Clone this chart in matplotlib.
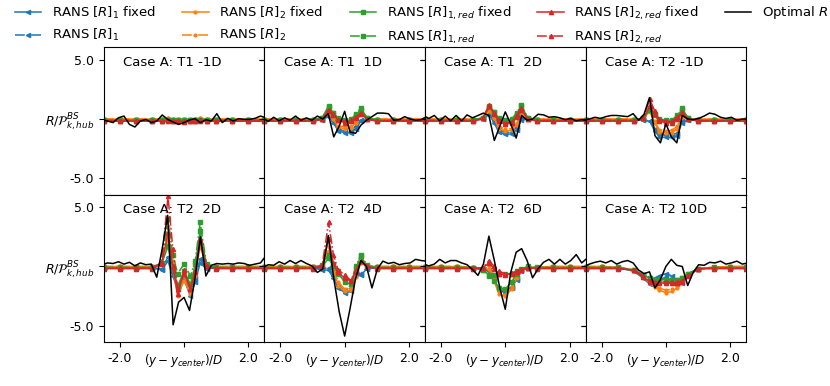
import matplotlib
matplotlib.use("Agg")
import matplotlib.pyplot as plt
import matplotlib.lines as mlines

# x positions: optimal R (black) and RANS grid
x_opt = [-2.55, -2.38, -2.21, -2.04, -1.87, -1.70, -1.53, -1.36, -1.19, -1.02, -0.85,
         -0.68, -0.51, -0.34, -0.17, 0.0, 0.17, 0.34, 0.51, 0.68, 0.85, 1.02, 1.19,
         1.36, 1.53, 1.70, 1.87, 2.04, 2.21, 2.38, 2.55]
x_rans = [-2.5, -2.0, -1.5, -1.0, -0.7, -0.5, -0.35, -0.2, 0.0, 0.2, 0.35, 0.5, 0.7,
          1.0, 1.5, 2.0, 2.5]

titles = ["Case A: T1 -1D", "Case A: T1  1D", "Case A: T1  2D", "Case A: T2 -1D",
          "Case A: T2  2D", "Case A: T2  4D", "Case A: T2  6D", "Case A: T2 10D"]

labels = [r"RANS $[R]_1$ fixed", r"RANS $[R]_1$",
          r"RANS $[R]_2$ fixed", r"RANS $[R]_2$",
          r"RANS $[R]_{1,red}$ fixed", r"RANS $[R]_{1,red}$",
          r"RANS $[R]_{2,red}$ fixed", r"RANS $[R]_{2,red}$"]

# ---- T1 -1D
a_r1f = [-0.1, -0.1, -0.1, -0.1, -0.12, -0.1, -0.15, -0.12, -0.1, -0.12, -0.15, -0.1, -0.1, -0.1, -0.1, -0.1, -0.1]
a_r1 = [-0.1, -0.1, -0.1, -0.1, -0.1, -0.08, -0.12, -0.1, -0.08, -0.1, -0.12, -0.08, -0.1, -0.1, -0.1, -0.1, -0.1]
a_r2f = [0.0, 0.0, 0.0, 0.0, 0.02, 0.05, 0.0, -0.05, -0.05, -0.05, 0.0, 0.05, 0.02, 0.0, 0.0, 0.0, 0.0]
a_r2 = [0.0, 0.0, 0.0, 0.0, 0.0, 0.05, 0.02, -0.02, -0.03, -0.02, 0.02, 0.05, 0.0, 0.0, 0.0, 0.0, 0.0]
a_r1rf = [-0.1, -0.1, -0.1, -0.1, -0.08, -0.05, -0.08, -0.1, -0.12, -0.1, -0.08, -0.05, -0.08, -0.1, -0.1, -0.1, -0.1]
a_r1r = [-0.08, -0.08, -0.08, -0.08, -0.06, -0.04, -0.06, -0.08, -0.1, -0.08, -0.06, -0.04, -0.06, -0.08, -0.08, -0.08, -0.08]
a_r2rf = [-0.18, -0.18, -0.18, -0.18, -0.17, -0.15, -0.17, -0.2, -0.22, -0.2, -0.17, -0.15, -0.17, -0.18, -0.18, -0.18, -0.18]
a_r2r = [-0.15, -0.15, -0.15, -0.15, -0.14, -0.12, -0.14, -0.17, -0.18, -0.17, -0.14, -0.12, -0.14, -0.15, -0.15, -0.15, -0.15]
a_opt = [-0.03, -0.17, -0.3, 0.11, 0.25, -0.45, -0.67, -0.17, -0.03, -0.3, -0.17, 0.34, -0.03, -0.25, -0.45, -0.3,
         -0.08, 0.03, -0.3, -0.06, -0.17, 0.45, -0.3, 0.06, -0.17, 0.03, -0.03, -0.03, 0.06, 0.25, 0.1]

# ---- T1 1D
b_r1f = [-0.1, -0.1, -0.1, -0.1, -0.05, 0.25, -0.3, -1.0, -1.15, -1.15, -0.8, -0.2, 0.0, -0.1, -0.1, -0.1, -0.1]
b_r1 = [-0.1, -0.1, -0.1, -0.1, -0.05, 0.2, -0.2, -0.85, -1.0, -1.0, -0.6, -0.1, 0.05, -0.1, -0.1, -0.1, -0.1]
b_r2f = [0.0, 0.0, 0.0, 0.0, 0.05, 0.5, 0.0, -0.7, -0.8, -0.75, -0.3, 0.4, 0.05, 0.0, 0.0, 0.0, 0.0]
b_r2 = [0.0, 0.0, 0.0, 0.0, 0.05, 0.45, 0.05, -0.55, -0.65, -0.6, -0.2, 0.45, 0.05, 0.0, 0.0, 0.0, 0.0]
b_r1rf = [-0.1, -0.1, -0.1, -0.1, 0.1, 1.1, 0.5, 0.0, -0.2, -0.1, 0.3, 0.8, 0.1, -0.1, -0.1, -0.1, -0.1]
b_r1r = [-0.08, -0.08, -0.08, -0.08, 0.1, 1.0, 0.5, 0.05, -0.1, 0.0, 0.4, 0.9, 0.1, -0.08, -0.08, -0.08, -0.08]
b_r2rf = [-0.18, -0.18, -0.18, -0.18, 0.0, 0.8, 0.4, -0.1, -0.3, -0.2, 0.1, 0.5, 0.0, -0.18, -0.18, -0.18, -0.18]
b_r2r = [-0.15, -0.15, -0.15, -0.15, 0.0, 0.7, 0.35, -0.05, -0.2, -0.1, 0.15, 0.45, 0.0, -0.15, -0.15, -0.15, -0.15]
b_opt = [0.1, -0.2, 0.15, -0.15, 0.1, -0.1, 0.25, -0.1, 0.1, -0.1, 0.25, 0.0, 0.45, -1.5, -0.6, 0.65,
         -1.1, -1.2, -0.5, -0.1, 0.2, 0.5, 0.5, 0.45, -0.1, -0.05, 0.2, 0.0, -0.1, -0.05, 0.2]

# ---- T1 2D
c_r1f = [-0.1, -0.1, -0.1, -0.1, 0.0, 0.4, -0.3, -1.1, -1.3, -1.25, -0.9, -0.1, 0.0, -0.1, -0.1, -0.1, -0.1]
c_r1 = [-0.1, -0.1, -0.1, -0.1, 0.0, 0.35, -0.2, -0.9, -1.15, -1.1, -0.7, 0.05, 0.0, -0.1, -0.1, -0.1, -0.1]
c_r2f = [0.0, 0.0, 0.0, 0.0, 0.05, 0.8, 0.1, -0.8, -1.0, -0.95, -0.5, 0.4, 0.05, 0.0, 0.0, 0.0, 0.0]
c_r2 = [0.0, 0.0, 0.0, 0.0, 0.05, 0.7, 0.15, -0.6, -0.85, -0.8, -0.35, 0.5, 0.05, 0.0, 0.0, 0.0, 0.0]
c_r1rf = [-0.1, -0.1, -0.1, -0.1, 0.1, 1.1, 0.6, 0.0, -0.2, -0.1, 0.4, 1.1, 0.1, -0.1, -0.1, -0.1, -0.1]
c_r1r = [-0.08, -0.08, -0.08, -0.08, 0.1, 1.0, 0.55, 0.05, -0.1, 0.0, 0.5, 1.2, 0.1, -0.08, -0.08, -0.08, -0.08]
c_r2rf = [-0.18, -0.18, -0.18, -0.18, 0.05, 1.2, 0.5, -0.2, -0.45, -0.35, 0.2, 0.8, 0.0, -0.18, -0.18, -0.18, -0.18]
c_r2r = [-0.15, -0.15, -0.15, -0.15, 0.05, 1.1, 0.45, -0.1, -0.35, -0.25, 0.3, 0.9, 0.0, -0.15, -0.15, -0.15, -0.15]
c_opt = [0.3, 0.05, 0.3, -0.15, 0.25, -0.15, 0.3, -0.15, 0.35, 0.1, 0.3, 0.5, 0.3, -1.8, -0.6, 0.6,
         -0.4, -1.6, 0.3, -0.1, 0.0, 0.4, 0.35, 0.15, 0.2, 0.1, -0.05, 0.05, -0.15, -0.05, -0.15]

# ---- T2 -1D
d_r1f = [-0.1, -0.1, -0.1, -0.1, -0.1, -0.2, -1.0, -1.5, -1.55, -1.55, -1.4, -0.3, -0.1, -0.1, -0.1, -0.1, -0.1]
d_r1 = [-0.1, -0.1, -0.1, -0.1, -0.1, -0.15, -0.8, -1.3, -1.35, -1.35, -1.2, -0.2, -0.1, -0.1, -0.1, -0.1, -0.1]
d_r2f = [0.0, 0.0, 0.0, 0.0, 0.0, 0.7, -0.3, -1.1, -1.15, -1.15, -0.8, 0.2, 0.0, 0.0, 0.0, 0.0, 0.0]
d_r2 = [0.0, 0.0, 0.0, 0.0, 0.0, 0.6, -0.2, -0.9, -1.0, -0.95, -0.6, 0.3, 0.0, 0.0, 0.0, 0.0, 0.0]
d_r1rf = [-0.1, -0.1, -0.1, -0.1, 0.05, 0.8, 0.3, -0.1, -0.2, -0.15, 0.2, 0.8, 0.05, -0.1, -0.1, -0.1, -0.1]
d_r1r = [-0.08, -0.08, -0.08, -0.08, 0.05, 0.9, 0.4, 0.0, -0.1, -0.05, 0.3, 0.9, 0.05, -0.08, -0.08, -0.08, -0.08]
d_r2rf = [-0.18, -0.18, -0.18, -0.18, 0.05, 1.1, 0.4, -0.2, -0.3, -0.3, 0.0, 0.5, 0.0, -0.18, -0.18, -0.18, -0.18]
d_r2r = [-0.15, -0.15, -0.15, -0.15, 0.1, 1.65, 0.7, 0.0, -0.2, -0.2, 0.15, 0.55, 0.0, -0.15, -0.15, -0.15, -0.15]
d_opt = [-0.05, 0.0, 0.15, 0.05, 0.2, 0.3, 0.3, 0.25, 0.2, 0.45, -0.1, 0.4, 1.8, -1.4, -2.0, -0.4,
         -1.5, -2.0, 0.3, 0.0, -0.05, 0.05, 0.25, 0.5, 0.4, 0.15, 0.05, 0.15, -0.1, 0.0, 0.0]

# ---- T2 2D
e_r1f = [-0.1, -0.1, -0.1, -0.1, -0.3, 0.45, -0.8, -1.9, -1.1, -2.5, -1.3, 0.3, -0.2, -0.1, -0.1, -0.1, -0.1]
e_r1 = [-0.1, -0.1, -0.1, -0.1, -0.2, 0.8, -0.5, -1.6, -1.0, -2.0, -1.0, 0.6, -0.1, -0.1, -0.1, -0.1, -0.1]
e_r2f = [0.0, 0.0, 0.0, 0.0, 0.2, 2.3, -0.2, -2.5, -1.2, -2.3, -0.8, 1.7, 0.0, 0.0, 0.0, 0.0, 0.0]
e_r2 = [0.0, 0.0, 0.0, 0.0, 0.2, 3.3, 0.5, -2.0, -0.8, -2.0, -0.5, 2.0, 0.1, 0.0, 0.0, 0.0, 0.0]
e_r1rf = [-0.1, -0.1, -0.1, -0.1, 0.2, 1.7, -0.2, -1.65, -0.4, -1.5, 0.2, 3.0, 0.1, -0.1, -0.1, -0.1, -0.1]
e_r1r = [-0.08, -0.08, -0.08, -0.08, 0.3, 4.0, 1.0, -0.6, 0.2, -0.8, 0.5, 3.7, 0.2, -0.08, -0.08, -0.08, -0.08]
e_r2rf = [-0.18, -0.18, -0.18, -0.18, 0.2, 2.8, 0.0, -2.3, -0.3, -1.9, -0.4, 2.1, 0.0, -0.18, -0.18, -0.18, -0.18]
e_r2r = [-0.15, -0.15, -0.15, -0.15, 0.3, 5.9, 1.5, -1.9, -0.6, -1.9, -0.5, 2.3, 0.0, -0.15, -0.15, -0.15, -0.15]
e_opt = [0.15, 0.3, 0.25, 0.4, 0.2, 0.35, 0.05, 0.3, 0.15, 0.2, -0.9, 1.5, 4.3, -4.9, -3.0, -2.6,
         -3.7, -1.0, 2.5, -0.8, 0.1, 0.25, 0.2, 0.25, 0.2, 0.3, 0.25, 0.1, 0.2, 0.3, 0.9]

# ---- T2 4D
f_r1f = [-0.1, -0.1, -0.1, -0.1, -0.3, -0.3, -1.0, -1.8, -2.2, -2.1, -0.6, -0.7, -0.2, -0.1, -0.1, -0.1, -0.1]
f_r1 = [-0.1, -0.1, -0.1, -0.1, -0.2, -0.1, -0.8, -1.6, -2.0, -1.8, -0.5, -0.6, -0.1, -0.1, -0.1, -0.1, -0.1]
f_r2f = [0.0, 0.0, 0.0, 0.0, 0.0, 1.3, -0.3, -1.6, -2.1, -2.0, -0.9, 0.3, 0.0, 0.0, 0.0, 0.0, 0.0]
f_r2 = [0.0, 0.0, 0.0, 0.0, 0.0, 1.6, 0.0, -1.3, -1.9, -1.8, -0.7, 0.4, 0.0, 0.0, 0.0, 0.0, 0.0]
f_r1rf = [-0.1, -0.1, -0.1, -0.1, 0.0, 0.7, 0.0, -0.6, -1.3, -1.5, -0.2, 0.9, 0.0, -0.1, -0.1, -0.1, -0.1]
f_r1r = [-0.08, -0.08, -0.08, -0.08, 0.1, 1.0, 0.2, -0.4, -1.0, -1.2, 0.0, 1.0, 0.1, -0.08, -0.08, -0.08, -0.08]
f_r2rf = [-0.18, -0.18, -0.18, -0.18, 0.0, 2.3, 0.3, -0.5, -1.0, -1.2, -0.3, 0.45, 0.0, -0.18, -0.18, -0.18, -0.18]
f_r2r = [-0.15, -0.15, -0.15, -0.15, 0.1, 3.7, 1.0, -0.3, -0.7, -1.2, -0.5, 0.5, 0.0, -0.15, -0.15, -0.15, -0.15]
f_opt = [-0.1, 0.15, 0.1, 0.4, 0.2, 0.5, 0.25, 0.5, 0.25, 0.05, -0.5, -0.2, 2.6, -1.0, -3.8, -5.85,
         -3.5, -1.0, 0.5, 0.0, -1.8, -0.2, 0.45, 0.25, 0.35, 0.15, 0.25, 0.3, 0.6, 0.5, 0.45]

# ---- T2 6D
g_r1f = [-0.1, -0.1, -0.1, -0.1, -0.2, -0.4, -1.1, -2.0, -2.2, -1.8, -1.1, -0.4, -0.1, -0.1, -0.1, -0.1, -0.1]
g_r1 = [-0.1, -0.1, -0.1, -0.1, -0.2, -0.3, -1.0, -1.9, -2.1, -1.7, -1.0, -0.3, -0.1, -0.1, -0.1, -0.1, -0.1]
g_r2f = [0.0, 0.0, 0.0, -0.05, -0.2, -0.2, -1.2, -2.3, -2.5, -1.9, -1.0, -0.3, -0.1, -0.05, 0.0, 0.0, 0.0]
g_r2 = [0.0, 0.0, 0.0, -0.05, -0.2, 0.0, -1.0, -2.1, -2.4, -1.7, -0.8, -0.2, -0.1, -0.05, 0.0, 0.0, 0.0]
g_r1rf = [-0.1, -0.1, -0.1, -0.1, -0.3, -0.7, -1.2, -1.8, -1.9, -1.3, -0.6, -0.3, -0.1, -0.1, -0.1, -0.1, -0.1]
g_r1r = [-0.08, -0.08, -0.08, -0.1, -0.3, -0.8, -0.7, -0.6, -0.65, -0.6, -0.4, -0.2, 0.0, -0.08, -0.08, -0.08, -0.08]
g_r2rf = [-0.18, -0.18, -0.18, -0.18, -0.1, 0.3, -0.2, -0.6, -0.7, -0.6, -0.45, -0.3, -0.1, -0.18, -0.18, -0.18, -0.18]
g_r2r = [-0.15, -0.15, -0.15, -0.15, -0.1, 0.5, 0.0, -0.4, -0.6, -0.55, -0.4, -0.25, -0.1, -0.15, -0.15, -0.15, -0.15]
g_opt = [0.2, 0.05, 0.2, 0.6, 0.3, 0.5, 0.5, 0.3, 0.15, -0.25, -0.75, 0.2, 2.55, 0.5, -1.8, -3.6,
         -0.5, 1.2, 1.5, 0.5, -0.95, -0.2, 0.35, 0.6, 0.2, 0.6, 0.2, 0.5, 1.0, 0.3, 0.7]

# ---- T2 10D
h_r1f = [-0.1, -0.1, -0.1, -0.4, -1.0, -1.5, -1.4, -1.1, -0.9, -1.2, -1.5, -1.4, -0.8, -0.2, -0.1, -0.1, -0.1]
h_r1 = [-0.1, -0.1, -0.1, -0.3, -0.8, -1.2, -1.0, -0.8, -0.6, -0.8, -1.1, -1.1, -0.6, -0.2, -0.1, -0.1, -0.1]
h_r2f = [0.0, 0.0, -0.05, -0.3, -0.9, -1.4, -1.7, -2.0, -2.2, -2.1, -1.8, -1.4, -0.8, -0.2, -0.05, 0.0, 0.0]
h_r2 = [0.0, 0.0, -0.05, -0.3, -0.8, -1.3, -1.6, -1.8, -2.0, -1.9, -1.6, -1.3, -0.7, -0.2, -0.05, 0.0, 0.0]
h_r1rf = [-0.1, -0.1, -0.1, -0.3, -0.7, -1.0, -1.1, -1.1, -1.1, -1.1, -1.1, -1.0, -0.6, -0.2, -0.1, -0.1, -0.1]
h_r1r = [-0.08, -0.08, -0.08, -0.3, -0.7, -1.0, -1.1, -1.1, -1.2, -1.1, -1.1, -1.0, -0.6, -0.2, -0.08, -0.08, -0.08]
h_r2rf = [-0.18, -0.18, -0.18, -0.3, -0.9, -1.3, -1.4, -1.4, -1.4, -1.4, -1.4, -1.3, -0.8, -0.2, -0.18, -0.18, -0.18]
h_r2r = [-0.15, -0.15, -0.15, -0.3, -0.8, -1.2, -1.3, -1.3, -1.3, -1.3, -1.3, -1.2, -0.7, -0.2, -0.15, -0.15, -0.15]
h_opt = [0.0, 0.2, 0.35, 0.45, 0.3, 0.5, 0.2, 0.4, 0.5, 0.3, -0.3, -0.6, -0.45, -1.8, -1.1, 0.0,
         0.6, 0.1, 0.0, -1.6, -0.5, 0.15, 0.1, 0.35, 0.3, 0.45, 0.2, 0.3, 0.45, 0.2, 0.3]

panels = [
    [a_r1f, a_r1, a_r2f, a_r2, a_r1rf, a_r1r, a_r2rf, a_r2r, a_opt],
    [b_r1f, b_r1, b_r2f, b_r2, b_r1rf, b_r1r, b_r2rf, b_r2r, b_opt],
    [c_r1f, c_r1, c_r2f, c_r2, c_r1rf, c_r1r, c_r2rf, c_r2r, c_opt],
    [d_r1f, d_r1, d_r2f, d_r2, d_r1rf, d_r1r, d_r2rf, d_r2r, d_opt],
    [e_r1f, e_r1, e_r2f, e_r2, e_r1rf, e_r1r, e_r2rf, e_r2r, e_opt],
    [f_r1f, f_r1, f_r2f, f_r2, f_r1rf, f_r1r, f_r2rf, f_r2r, f_opt],
    [g_r1f, g_r1, g_r2f, g_r2, g_r1rf, g_r1r, g_r2rf, g_r2r, g_opt],
    [h_r1f, h_r1, h_r2f, h_r2, h_r1rf, h_r1r, h_r2rf, h_r2r, h_opt],
]

colors = ["#1f77b4", "#ff7f0e", "#2ca02c", "#d62728"]
markers = ["<", ".", "s", "^"]
msizes = [3, 4, 2.5, 3]

plt.rcParams["font.size"] = 9

fig = plt.figure(figsize=(8.3, 3.86), dpi=100)
axes = fig.subplots(2, 4, sharex=True, sharey=True)
fig.subplots_adjust(left=0.125, right=0.899, top=0.878, bottom=0.114, wspace=0, hspace=0)

for k, ax in enumerate(axes.flat):
    data = panels[k]
    for i in range(8):
        c = colors[i // 2]
        ls = "-" if i % 2 == 0 else "-."
        ax.plot(x_rans, data[i], color=c, ls=ls, lw=1.1, marker=markers[i // 2],
                ms=msizes[i // 2], label=labels[i])
    ax.plot(x_opt, data[8], color="black", lw=1.1, label="Optimal $R$")
    ax.text(0.12, 0.94, titles[k], transform=ax.transAxes, va="top", ha="left", fontsize=9.5)

ax0 = axes[0, 0]
ax0.set_xlim(-2.5, 2.5)
ax0.set_ylim(-6.35, 6.05)
ax0.set_xticks([-2, 0, 2], ["-2.0", r"$(y-y_{center})/D$", "2.0"])
ax0.set_yticks([5, 0, -5], ["5.0", r"$R/\mathcal{P}_{k,hub}^{BS}$", "-5.0"])

for ax in axes.flat:
    ax.tick_params(axis="y", right=True)
    for t in ax.yaxis.get_major_ticks():
        t.tick2line.set_marker(mlines.TICKLEFT)

for ax in axes[1]:
    ax.get_xticklabels()[1].set_fontsize(8.6)

handles, labs = ax0.get_legend_handles_labels()
fig.legend(handles, labs, loc="upper center", bbox_to_anchor=(0.508, 1.02), ncol=5,
           frameon=False, fontsize=9.5)

fig.savefig("out.png", dpi=100)
